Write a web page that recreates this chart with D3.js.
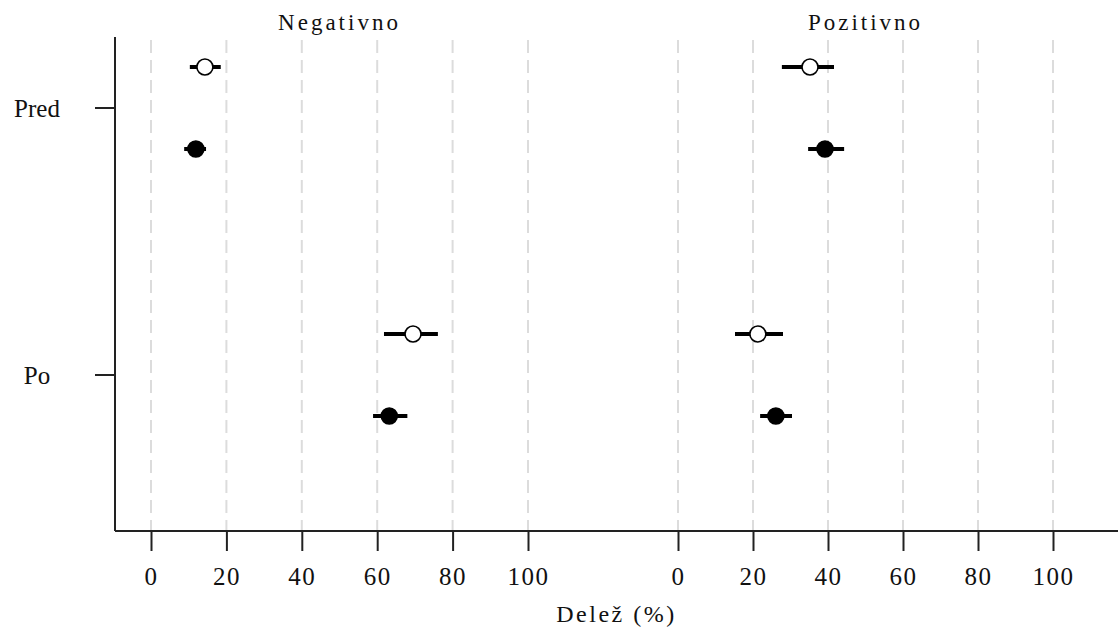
<!DOCTYPE html>
<html lang="sl">
<head>
    <meta charset="UTF-8">
    <title>Delež</title>
    <script src="https://cdnjs.cloudflare.com/ajax/libs/d3/7.8.5/d3.min.js"></script>
    <style>
        body { margin: 0; background: #fff; }
        svg { display: block; }
        text { font-family: "Liberation Serif", "DejaVu Serif", serif; fill: #111; }
    </style>
</head>
<body>
    <svg width="1118" height="632"></svg>
    <script>
        "use strict";

        // data
        const categories = ["Pred", "Po"];
        const panels = ["Negativno", "Pozitivno"];
        const ticks = [0, 20, 40, 60, 80, 100];

        // open circles
        const openMean = { Negativno: [14.3, 69.5], Pozitivno: [35.2, 21.3] };
        const openLow  = { Negativno: [10.3, 61.8], Pozitivno: [27.7, 15.2] };
        const openHigh = { Negativno: [18.5, 76.1], Pozitivno: [41.6, 28.0] };

        // filled circles
        const fillMean = { Negativno: [11.9, 63.2], Pozitivno: [39.2, 26.1] };
        const fillLow  = { Negativno: [8.8, 58.9],  Pozitivno: [34.7, 21.9] };
        const fillHigh = { Negativno: [14.6, 68.0], Pozitivno: [44.3, 30.4] };

        const svg = d3.select("svg");
        const width = +svg.attr("width");

        const axisY = 531, topY = 37, leftX = 115;

        const x = {
            Negativno: d3.scaleLinear().domain([0, 100]).range([151, 528]),
            Pozitivno: d3.scaleLinear().domain([0, 100]).range([678, 1053])
        };
        const y = d3.scalePoint().domain(categories).range([108, 375]);
        const offset = d3.scalePoint().domain(["open", "fill"]).range([-41, 41]);

        // grid lines
        for (const p of panels) {
            svg.append("g")
                .selectAll("line")
                .data(ticks)
                .enter()
                .append("line")
                .attr("x1", d => x[p](d)).attr("x2", d => x[p](d))
                .attr("y1", topY + 3).attr("y2", axisY)
                .attr("stroke", "#dcdcdc")
                .attr("stroke-width", 2)
                .attr("stroke-dasharray", "13,7");
        }

        // x axis line across the whole width
        svg.append("line")
            .attr("x1", leftX).attr("x2", width)
            .attr("y1", axisY).attr("y2", axisY)
            .attr("stroke", "#222").attr("stroke-width", 2);

        for (const p of panels) {
            const ax = svg.append("g")
                .attr("transform", `translate(0,${axisY})`)
                .call(d3.axisBottom(x[p]).tickValues(ticks).tickSize(20).tickPadding(16));
            ax.select(".domain").remove();
            ax.selectAll(".tick line").attr("stroke", "#222").attr("stroke-width", 2);
            ax.selectAll(".tick text")
                .attr("fill", "#111")
                .style("font-family", "Liberation Serif, serif")
                .style("font-size", "25px")
                .style("letter-spacing", "1.5px");

            svg.append("text")
                .attr("x", x[p](50))
                .attr("y", 30)
                .attr("text-anchor", "middle")
                .style("font-size", "23px")
                .style("letter-spacing", "3px")
                .text(p);
        }

        // y axis
        svg.append("line")
            .attr("x1", leftX).attr("x2", leftX)
            .attr("y1", topY).attr("y2", axisY)
            .attr("stroke", "#222").attr("stroke-width", 2);

        const yTicks = svg.append("g")
            .selectAll("g")
            .data(categories)
            .enter()
            .append("g")
            .attr("transform", d => `translate(0,${y(d)})`);
        yTicks.append("line")
            .attr("x1", leftX - 20).attr("x2", leftX)
            .attr("stroke", "#222").attr("stroke-width", 2);
        yTicks.append("text")
            .attr("x", 37)
            .attr("dy", "0.35em")
            .attr("text-anchor", "middle")
            .style("font-size", "25px")
            .text(d => d);

        // x axis title
        svg.append("text")
            .attr("x", (leftX + width) / 2)
            .attr("y", 622)
            .attr("text-anchor", "middle")
            .style("font-size", "24px")
            .style("letter-spacing", "2.5px")
            .text("Delež (%)");

        // points and intervals
        const series = [
            { key: "open", mean: openMean, low: openLow, high: openHigh, fill: "#fff" },
            { key: "fill", mean: fillMean, low: fillLow, high: fillHigh, fill: "#000" }
        ];

        for (const p of panels) {
            for (const s of series) {
                const rows = categories.map((c, i) => ({
                    cat: c, m: s.mean[p][i], lo: s.low[p][i], hi: s.high[p][i]
                }));
                const g = svg.append("g");
                g.selectAll("line")
                    .data(rows)
                    .enter()
                    .append("line")
                    .attr("x1", d => x[p](d.lo))
                    .attr("x2", d => x[p](d.hi))
                    .attr("y1", d => y(d.cat) + offset(s.key))
                    .attr("y2", d => y(d.cat) + offset(s.key))
                    .attr("stroke", "#000")
                    .attr("stroke-width", 4);
                g.selectAll("circle")
                    .data(rows)
                    .enter()
                    .append("circle")
                    .attr("cx", d => x[p](d.m))
                    .attr("cy", d => y(d.cat) + offset(s.key))
                    .attr("r", 8)
                    .attr("fill", s.fill)
                    .attr("stroke", "#000")
                    .attr("stroke-width", 1.6);
            }
        }
    </script>
</body>
</html>
